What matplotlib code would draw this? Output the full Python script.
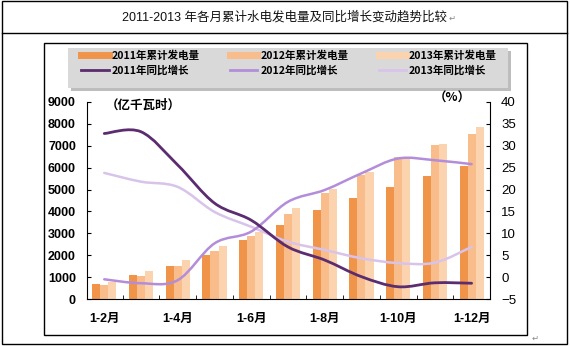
import numpy as np
import matplotlib
matplotlib.use("Agg")
import matplotlib.pyplot as plt
from matplotlib.patches import Rectangle, PathPatch
from matplotlib.path import Path
from matplotlib.lines import Line2D

plt.rcParams['font.family'] = ['Liberation Sans', 'Noto Sans CJK SC', 'DejaVu Sans']

# ---------------- data ----------------
months = ['1-2月', '1-3月', '1-4月', '1-5月', '1-6月', '1-7月',
          '1-8月', '1-9月', '1-10月', '1-11月', '1-12月']
gen_2011 = [700, 1100, 1510, 2010, 2690, 3380, 4060, 4630, 5130, 5620, 6070]
gen_2012 = [650, 1050, 1510, 2190, 2880, 3880, 4830, 5660, 6470, 7030, 7530]
gen_2013 = [760, 1280, 1780, 2430, 3070, 4150, 5010, 5800, 6470, 7080, 7840]
yoy_2011 = [32.8, 33.2, 25.6, 16.9, 13.0, 6.9, 3.9, 0.1, -2.2, -1.3, -1.4]
yoy_2012 = [-0.5, -1.4, -0.7, 7.7, 10.4, 17.2, 19.9, 23.7, 27.1, 26.7, 25.8]
yoy_2013 = [23.8, 21.8, 20.6, 14.9, 11.5, 8.1, 6.2, 4.3, 3.2, 3.3, 6.9]

bar_colors = ['#F0944A', '#F8BD8A', '#FBD4AF']
line_colors = ['#5B2C6F', '#B38DDA', '#D8C3EA']

W, H = 570, 346
fig = plt.figure(figsize=(W / 100, H / 100), dpi=100)
fig.patch.set_facecolor('white')


def fx(x):
    return x / W


def fy(y):
    return 1 - y / H


# frames (pixel coords, y from top)
def box(x0, y0, x1, y1):
    fig.patches.append(Rectangle((fx(x0), fy(y1)), fx(x1) - fx(x0), fy(y0) - fy(y1),
                                 transform=fig.transFigure, fill=False,
                                 edgecolor='black', linewidth=1.0))


# smooth line through the points (bezier, like the excel "smoothed line")
def smooth_line(a, xs, ys, color, lw):
    pts = np.column_stack([xs, ys]).astype(float)
    verts = [pts[0]]
    codes = [Path.MOVETO]
    n = len(pts)
    for i in range(n - 1):
        p0 = pts[max(i - 1, 0)]
        p1 = pts[i]
        p2 = pts[i + 1]
        p3 = pts[min(i + 2, n - 1)]
        verts += [p1 + (p2 - p0) / 6, p2 - (p3 - p1) / 6, p2]
        codes += [Path.CURVE4] * 3
    a.add_patch(PathPatch(Path(verts, codes), facecolor='none', edgecolor=color,
                          lw=lw, capstyle='round'))


box(2, 1, 567, 344)
fig.add_artist(Line2D([fx(2), fx(567)], [fy(33), fy(33)], color='black', lw=1.0))
box(44, 43, 527, 335)

fig.text(fx(284), fy(17), '2011-2013 年各月累计水电发电量及同比增长变动趋势比较',
         ha='center', va='center', fontsize=9, color='#111111')
fig.text(fx(449), fy(18), '↵', ha='left', va='center', fontsize=6, color='#888888',
         family='DejaVu Sans')
fig.text(fx(532), fy(338), '↵', ha='left', va='center', fontsize=6, color='#888888',
         family='DejaVu Sans')

# ---------------- axes ----------------
ax = fig.add_axes([fx(87), fy(299), fx(490) - fx(87), fy(102) - fy(299)])
ax2 = ax.twinx()

x = np.arange(len(months))
bw = 0.22
ax.bar(x - bw, gen_2011, bw, color=bar_colors[0], linewidth=0)
ax.bar(x, gen_2012, bw, color=bar_colors[1], linewidth=0)
ax.bar(x + bw, gen_2013, bw, color=bar_colors[2], linewidth=0)

smooth_line(ax2, x, yoy_2013, line_colors[2], 1.8)
smooth_line(ax2, x, yoy_2012, line_colors[1], 1.8)
smooth_line(ax2, x, yoy_2011, line_colors[0], 2.0)

ax.set_xlim(-0.47, 10.5)
ax.set_ylim(0, 9000)
ax2.set_ylim(-5, 40)
ax.set_yticks(np.arange(0, 9001, 1000))
ax2.set_yticks(np.arange(-5, 41, 5))
ax.set_xticks(x[::2])
ax.set_xticklabels(months[::2])
ax.set_xticks(np.arange(0.5, 10, 1), minor=True)

for a in (ax, ax2):
    a.spines['top'].set_visible(False)
    a.patch.set_visible(False)
ax.spines['right'].set_visible(False)
ax2.spines['left'].set_visible(False)
ax2.spines['bottom'].set_visible(False)

ax.tick_params(axis='x', which='major', length=0, pad=10)
ax.tick_params(axis='x', which='minor', direction='in', length=3)
ax.tick_params(axis='y', direction='in', length=3, pad=8)
ax2.tick_params(axis='y', direction='in', length=3, pad=8)
for lab in ax.get_yticklabels():
    lab.set_fontsize(9)
    lab.set_fontweight('bold')
for lab in ax.get_xticklabels():
    lab.set_fontsize(9)
    lab.set_fontweight('bold')
    lab.set_family(['Liberation Sans', 'Noto Sans CJK SC'])
for lab in ax2.get_yticklabels():
    lab.set_fontsize(9.5)

fig.text(fx(106), fy(105), '（亿千瓦时）', ha='left', va='center', fontsize=9,
         fontweight='bold', family=['Noto Sans CJK SC'])
fig.text(fx(452), fy(98), '（%）', ha='center', va='center', fontsize=9,
         fontweight='bold', family=['Noto Sans CJK SC'])

# ---------------- legend ----------------
handles = []
labels = []
for i, yr in enumerate(['2011', '2012', '2013']):
    handles.append(Line2D([], [], color=bar_colors[i], lw=5))
    labels.append(yr + '年累计发电量')
    handles.append(Line2D([], [], color=line_colors[i], lw=2))
    labels.append(yr + '年同比增长')

fig.patches.append(Rectangle((fx(71), fy(91)), fx(511) - fx(71), fy(51) - fy(91),
                             transform=fig.transFigure, facecolor='#BDBDBD',
                             edgecolor='none'))
fig.patches.append(Rectangle((fx(68), fy(88)), fx(508) - fx(68), fy(48) - fy(88),
                             transform=fig.transFigure, facecolor='#D9D9D9',
                             edgecolor='none'))
leg = fig.legend(handles, labels, ncol=3, loc='center', bbox_to_anchor=(fx(289), fy(63)),
                 frameon=False, handlelength=2.6, handletextpad=0.25, columnspacing=2.9,
                 labelspacing=0.45, prop={'family': ['Noto Sans CJK SC'], 'weight': 'bold',
                                          'size': 7.6})

fig.savefig('out.png', dpi=100)
